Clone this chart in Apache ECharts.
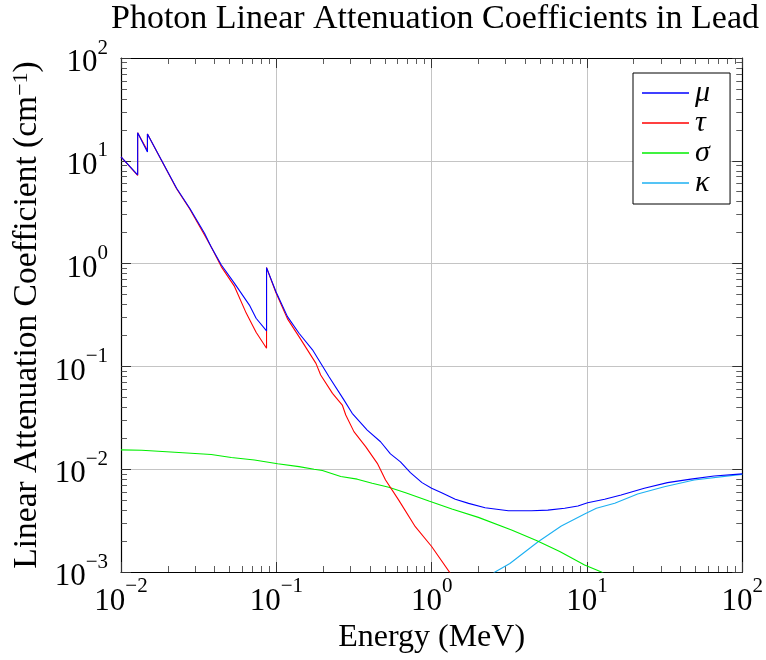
<!DOCTYPE html>
<html>
<head>
<meta charset="utf-8">
<script src="https://cdn.jsdelivr.net/npm/echarts@6/dist/echarts.min.js"></script>
<style>
html,body{margin:0;padding:0;background:#fff;}
#c{width:766px;height:660px;}
</style>
</head>
<body>
<div id="c"></div>
<script>
// ---- data (energy in MeV, coefficients in cm^-1) ----
const muE  = [0.01, 0.0128, 0.0128, 0.0148, 0.0148, 0.0182, 0.0228, 0.0277, 0.0345, 0.0381, 0.0443, 0.0538, 0.0671, 0.0741, 0.0865, 0.0865, 0.0995, 0.118, 0.140, 0.171, 0.219, 0.273, 0.308, 0.385, 0.469, 0.543, 0.630, 0.730, 0.867, 1.00, 1.16, 1.42, 1.73, 2.21, 3.12, 4.40, 5.60, 7.19, 8.75, 10.1, 13.0, 16.6, 23.4, 33.0, 46.7, 65.9, 100];
const muV  = [10.9, 7.3, 18.7, 12.2, 18.2, 10.2, 5.4, 3.45, 1.97, 1.45, 0.97, 0.643, 0.395, 0.294, 0.222, 0.914, 0.533, 0.305, 0.21, 0.145, 0.079, 0.047, 0.035, 0.024, 0.0185, 0.0141, 0.0118, 0.00925, 0.0074, 0.00652, 0.0059, 0.0051, 0.00465, 0.00422, 0.00394, 0.00394, 0.0040, 0.00417, 0.00439, 0.00472, 0.0051, 0.0056, 0.00652, 0.0074, 0.0080, 0.0086, 0.0090];

const tauE = [0.01, 0.0128, 0.0128, 0.0148, 0.0148, 0.0182, 0.0228, 0.0277, 0.0345, 0.0381, 0.0443, 0.0538, 0.064, 0.0741, 0.0865, 0.0865, 0.0995, 0.118, 0.140, 0.180, 0.193, 0.230, 0.266, 0.280, 0.316, 0.376, 0.447, 0.505, 0.614, 0.785, 1.00, 1.32, 1.45];
const tauV = [10.9, 7.2, 18.7, 12.6, 18.2, 10.1, 5.35, 3.4, 1.9, 1.45, 0.93, 0.60, 0.33, 0.215, 0.150, 0.914, 0.52, 0.29, 0.195, 0.107, 0.0824, 0.0547, 0.0421, 0.0337, 0.0232, 0.0166, 0.0114, 0.00785, 0.0050, 0.00276, 0.00177, 0.00097, 0.00079];

const sigE = [0.01, 0.0136, 0.0222, 0.0381, 0.0513, 0.0723, 0.102, 0.140, 0.175, 0.198, 0.26, 0.332, 0.414, 0.53, 0.68, 0.96, 1.35, 2.0, 3.27, 4.73, 6.68, 9.66, 12.4, 14.0];
const sigV = [0.0154, 0.0153, 0.0146, 0.0139, 0.0130, 0.0123, 0.0113, 0.0106, 0.0100, 0.0097, 0.0085, 0.0080, 0.0073, 0.00667, 0.0059, 0.0049, 0.0041, 0.0034, 0.00256, 0.00202, 0.00158, 0.00117, 0.0010, 0.00088];

const kapE = [2.3, 2.56, 3.19, 4.85, 6.84, 9.66, 11.5, 15.1, 21.2, 31.5, 49.0, 93.0, 100];
const kapV = [0.00088, 0.0010, 0.00121, 0.00197, 0.0028, 0.00366, 0.00417, 0.00466, 0.00574, 0.00676, 0.00786, 0.0088, 0.0089];

const seriesNames = ['μ', 'τ', 'σ', 'κ'];

// ---- helpers ----
const pair = (xs, ys) => xs.map((x, i) => [x, ys[i]]);
function minorLogs(lo, hi) {
  const out = [];
  for (let n = lo; n < hi; n++) for (let k = 2; k <= 9; k++) out.push(n + Math.log10(k));
  return out;
}
const FONT = 'Liberation Serif';
function fmt(v) {
  const e = Math.round(Math.log10(v));
  return '{b|10}{s|' + (e < 0 ? '\u2212' + (-e) : e) + '}';
}
const labelRich = {
  b: { fontFamily: FONT, fontSize: 31, color: '#000', padding: [10, 0, 0, 0] },
  s: { fontFamily: FONT, fontSize: 21, color: '#000', verticalAlign: 'top' }
};

const gridLineColor = '#c4c4c4';
const tickColor = '#333';

function majorX(pos, withLabels) {
  return {
    type: 'log', logBase: 10, min: 0.01, max: 100, position: pos,
    axisLine: { show: true, onZero: false, lineStyle: { color: '#000', width: 1.2 } },
    axisTick: { show: true, inside: true, length: 10, lineStyle: { color: tickColor, width: 1 } },
    axisLabel: withLabels ? { show: true, formatter: fmt, rich: labelRich, margin: 4 } : { show: false },
    splitLine: { show: withLabels, lineStyle: { color: gridLineColor, width: 1 } },
    minorTick: { show: false }
  };
}
function minorX(pos) {
  return {
    type: 'value', min: -2, max: 2, position: pos,
    axisLine: { show: false, onZero: false },
    axisTick: { show: true, inside: true, length: 6, customValues: minorLogs(-2, 2), lineStyle: { color: tickColor, width: 0.8 } },
    axisLabel: { show: false }, splitLine: { show: false }
  };
}
function majorY(pos, withLabels) {
  return {
    type: 'log', logBase: 10, min: 0.001, max: 100, position: pos,
    axisLine: { show: true, onZero: false, lineStyle: { color: '#000', width: 1.2 } },
    axisTick: { show: true, inside: true, length: 10, lineStyle: { color: tickColor, width: 1 } },
    axisLabel: withLabels ? { show: true, formatter: fmt, rich: labelRich, margin: 13 } : { show: false },
    splitLine: { show: withLabels, lineStyle: { color: gridLineColor, width: 1 } },
    name: withLabels ? 'Linear Attenuation Coefficient (cm{s|\u22121})' : '',
    nameLocation: 'middle', nameGap: 75, nameRotate: 90,
    nameTextStyle: { fontFamily: FONT, fontSize: 33.5, color: '#000',
      rich: { s: { fontFamily: FONT, fontSize: 22, color: '#000', verticalAlign: 'top' } } }
  };
}
function minorY(pos) {
  return {
    type: 'value', min: -3, max: 2, position: pos,
    axisLine: { show: false, onZero: false },
    axisTick: { show: true, inside: true, length: 6, customValues: minorLogs(-3, 2), lineStyle: { color: tickColor, width: 0.8 } },
    axisLabel: { show: false }, splitLine: { show: false }
  };
}

const xb = majorX('bottom', true);
xb.name = 'Energy (MeV)';
xb.nameLocation = 'middle';
xb.nameGap = 48;
xb.nameTextStyle = { fontFamily: FONT, fontSize: 32, color: '#000' };

const colors = ['#0000ff', '#ff0000', '#00ee00', '#1cb0f2'];
const dataSets = [pair(muE, muV), pair(tauE, tauV), pair(sigE, sigV), pair(kapE, kapV)];

const option = {
  animation: false,
  backgroundColor: '#fff',
  title: {
    text: 'Photon Linear Attenuation Coefficients in Lead',
    left: 435, top: 2, textAlign: 'center', padding: 0,
    textStyle: { fontFamily: FONT, fontSize: 34, fontWeight: 'normal', color: '#000' }
  },
  grid: { left: 121, right: 21, top: 58, bottom: 88, containLabel: false },
  xAxis: [xb, majorX('top', false), minorX('bottom'), minorX('top')],
  yAxis: [majorY('left', true), majorY('right', false), minorY('left'), minorY('right')],
  legend: {
    data: seriesNames,
    orient: 'vertical', left: 633, top: 73,
    icon: 'rect', itemWidth: 47, itemHeight: 1.5, itemGap: 0,
    padding: [5, 20, 6, 9],
    borderColor: '#000', borderWidth: 1, borderRadius: 0,
    backgroundColor: '#fff',
    textStyle: { fontFamily: FONT, fontSize: 30, fontStyle: 'italic', color: '#000', lineHeight: 30, padding: [0, 0, 0, 1] }
  },
  series: seriesNames.map((n, i) => ({
    name: n, type: 'line', xAxisIndex: 0, yAxisIndex: 0,
    data: dataSets[i], symbol: 'none', showSymbol: false, clip: true,
    lineStyle: { color: colors[i], width: 1.1 }, itemStyle: { color: colors[i] },
    z: 10 - i
  }))
};

const chart = echarts.init(document.getElementById('c'), null, { renderer: 'canvas' });
chart.setOption(option);
</script>
</body>
</html>
